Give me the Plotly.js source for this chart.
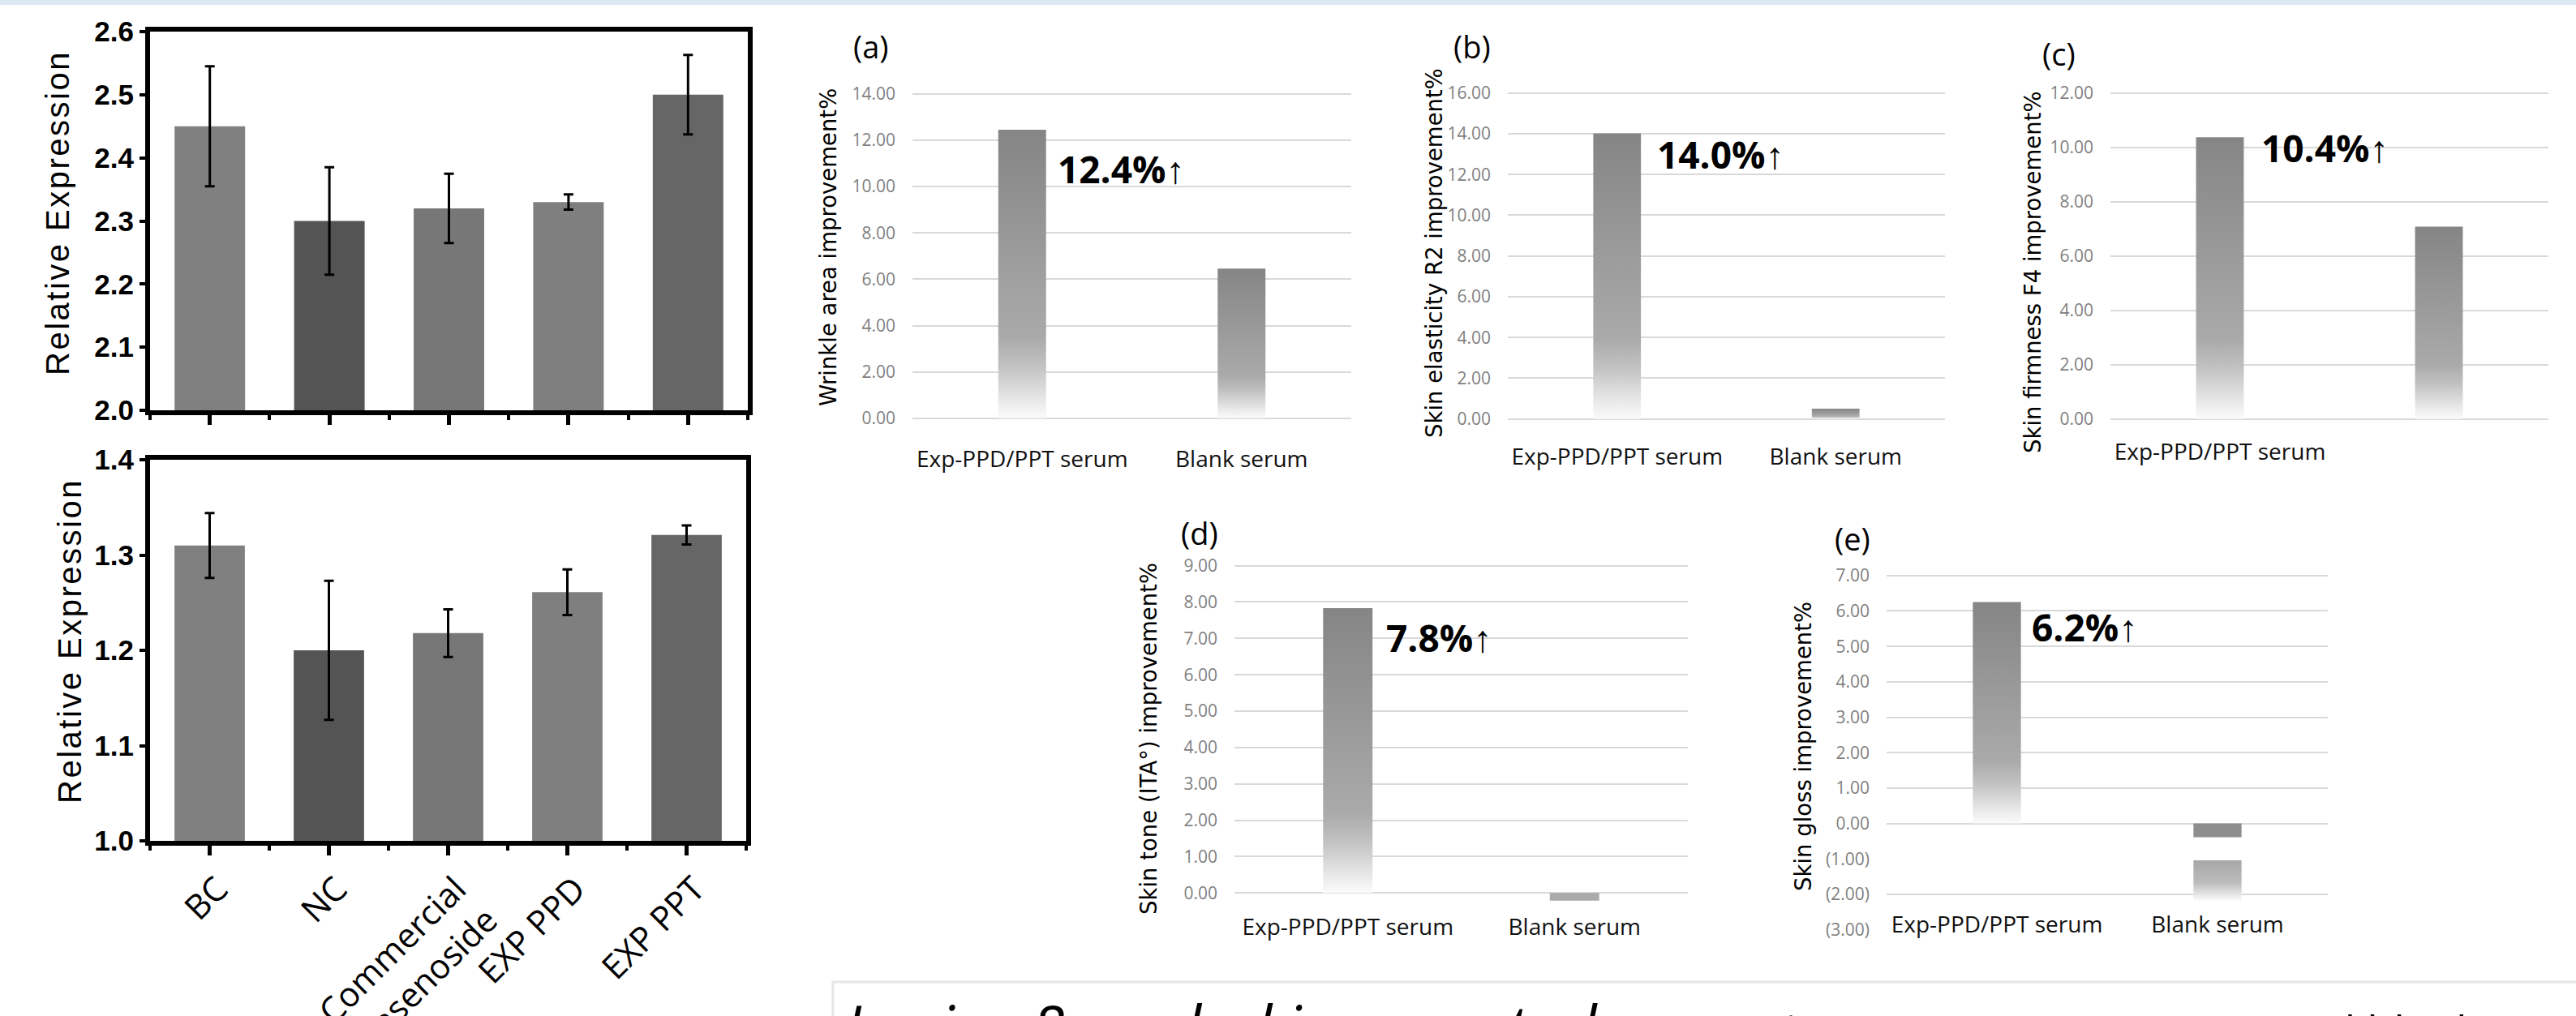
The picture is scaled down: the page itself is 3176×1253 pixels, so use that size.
<!DOCTYPE html>
<html><head><meta charset="utf-8">
<script src="https://cdn.plot.ly/plotly-3.0.1.min.js"></script>
<style>html,body{margin:0;padding:0;background:#fff;}#chart{width:3176px;height:1253px;}</style>
</head><body><div id="chart"></div>
<script>
// ---------------- data ----------------
const groups = ['BC', 'NC', 'Commercial<br>ginsenoside', 'EXP PPD', 'EXP PPT'];
const exprTop = [2.45, 2.30, 2.32, 2.33, 2.50];
const exprTopErr = [0.095, 0.085, 0.055, 0.012, 0.063];
const exprBottom = [1.31, 1.20, 1.218, 1.261, 1.321];
const exprBottomErr = [0.034, 0.073, 0.025, 0.024, 0.010];
const groupGrays = ['#808080', '#545454', '#777777', '#7f7f7f', '#666666'];

const serums = ['Exp-PPD/PPT serum', 'Blank serum'];
const wrinkleArea = [12.45, 6.46];
const elasticityR2 = [14.02, 0.50];
const firmnessF4 = [10.37, 7.08];
const toneITA = [7.83, -0.21];
const glossUpper = [6.25, -0.39];
const glossLowerBase = [null, -1.04];
const glossLowerLen = [null, -1.16];
const improvementText = ['12.4%↑', '14.0%↑', '10.4%↑', '7.8%↑', '6.2%↑'];
const glossTicks = [-3, -2, -1, 0, 1, 2, 3, 4, 5, 6, 7];
const glossGrid = [-2, 0, 1, 2, 3, 4, 5, 6, 7];
const yTitles = ['Wrinkle area improvement%', 'Skin elasticity R2 improvement%',
  'Skin firmness F4 improvement%', 'Skin tone (ITA°) improvement%', 'Skin gloss improvement%'];
const panelLetters = ['(a)', '(b)', '(c)', '(d)', '(e)'];

// ---------------- helpers ----------------
const W = 3176, H = 1253;
const px = v => v / W;
const py = v => 1 - v / H;
const dx = (a, b) => [px(a), px(b)];
const dy = (top, bot) => [py(bot), py(top)];
const GRAD = '#858585';      // gradient bars
const GRAD2 = '#a7a7a7';     // lower piece gradient
const groupIdx = groups.map((g, i) => i);
const glossTickText = glossTicks.map(v => v < 0 ? '(' + Math.abs(v).toFixed(2) + ')' : v.toFixed(2));

const data = [];
function exprTrace(vals, errs, xa, ya) {
  return {type: 'bar', x: groupIdx, y: vals, xaxis: xa, yaxis: ya, width: 0.59,
    marker: {color: groupGrays, line: {width: 0}},
    error_y: {type: 'data', array: errs, visible: true, color: '#000', thickness: 3, width: 6},
    showlegend: false, hoverinfo: 'skip'};
}
data.push(exprTrace(exprTop, exprTopErr, 'x', 'y'));
data.push(exprTrace(exprBottom, exprBottomErr, 'x2', 'y2'));

function serumTrace(vals, colors, xa, ya, extra) {
  return Object.assign({type: 'bar', x: serums, y: vals, xaxis: xa, yaxis: ya, width: 0.218,
    marker: {color: colors, line: {width: 0}}, showlegend: false, hoverinfo: 'skip'}, extra || {});
}
data.push(serumTrace(wrinkleArea, [GRAD, GRAD], 'x3', 'y3'));
data.push(serumTrace(elasticityR2, [GRAD, GRAD], 'x4', 'y4'));
data.push(serumTrace(firmnessF4, [GRAD, GRAD], 'x5', 'y5'));
data.push(serumTrace(toneITA, [GRAD, '#aaaaaa'], 'x6', 'y6'));
data.push(serumTrace(glossUpper, [GRAD, '#8e8e8e'], 'x7', 'y7'));
data.push(serumTrace(glossLowerLen, [GRAD2, GRAD2], 'x7', 'y8', {base: glossLowerBase}));

// ---------------- layout ----------------
const frame = {showline: true, mirror: true, linewidth: 6, linecolor: '#000', showgrid: false, zeroline: false, fixedrange: true};
function leftX(domain, anchor, showLabels) {
  return Object.assign({}, frame, {domain, anchor, range: [-0.5, 4.5], tickmode: 'array', tickvals: groupIdx,
    ticktext: groups, showticklabels: showLabels, tickangle: -45, ticklabelshift: 10,
    tickfont: {family: 'Open Sans', size: 42, color: '#000'},
    ticks: 'outside', ticklen: 12, tickwidth: 5, tickcolor: '#000',
    minor: {ticks: 'outside', ticklen: 6, tickwidth: 4, tickcolor: '#000', tick0: 0.5, dtick: 1}});
}
function leftY(domain, anchor, range) {
  return Object.assign({}, frame, {domain, anchor, range, dtick: 0.1, tick0: 0, tickformat: '.1f',
    ticks: 'outside', ticklen: 7, tickwidth: 4, tickcolor: '#000',
    tickfont: {family: 'Liberation Sans', size: 35, color: '#000', weight: 'bold'}});
}
function smallX(domain, anchor, standoff, ticktext) {
  return {domain, anchor, type: 'category', range: [-0.5, 1.5], showgrid: false, zeroline: false,
    showline: false, ticks: '', tickmode: 'array', tickvals: serums, ticktext: ticktext || serums,
    tickfont: {family: 'Open Sans', size: 28, color: '#111'}, ticklabelstandoff: standoff, fixedrange: true};
}
function smallY(domain, anchor, range, dtick, extra) {
  return Object.assign({domain, anchor, range, dtick, tick0: 0, tickformat: '.2f', showgrid: true,
    gridcolor: '#d9d9d9', gridwidth: 2, zeroline: false, showline: false, ticks: '',
    tickfont: {family: 'Open Sans', size: 21, color: '#7f7f7f'}, ticklabelstandoff: 20, fixedrange: true}, extra || {});
}

const layout = {
  width: W, height: H, margin: {l: 0, r: 0, t: 0, b: 0},
  paper_bgcolor: '#ffffff', plot_bgcolor: 'rgba(0,0,0,0)', barmode: 'overlay', showlegend: false,
  font: {family: 'Open Sans', color: '#000'},
  xaxis: leftX(dx(185, 922), 'y', false),
  yaxis: leftY(dy(39, 506), 'x', [2.0, 2.6]),
  xaxis2: leftX(dx(185, 920), 'y2', true),
  yaxis2: leftY(dy(567, 1037), 'x2', [1.0, 1.4]),
  xaxis3: smallX(dx(1125, 1666), 'y3', 30),
  yaxis3: smallY(dy(114.2, 517.3), 'x3', [-0.05, 14.05], 2),
  xaxis4: smallX(dx(1859, 2398), 'y4', 26),
  yaxis4: smallY(dy(113.5, 517.9), 'x4', [-0.05, 16.05], 2),
  xaxis5: smallX(dx(2602, 3142), 'y5', 20, [serums[0], '']),
  yaxis5: smallY(dy(113.1, 518.3), 'x5', [-0.05, 12.05], 2),
  xaxis6: smallX(dx(1522, 2081), 'y6', 0),
  yaxis6: smallY(dy(695.4, 1123.7), 'x6', [-0.5, 9.05], 1),
  xaxis7: smallX(dx(2326, 2870), 'y7', -26),
  yaxis7: smallY(dy(708.5, 1147.4), 'x7', [-3.02, 7.03], 1,
    {tickmode: 'array', tickvals: glossGrid, showticklabels: false, showgrid: true}),
  yaxis8: smallY(dy(708.5, 1147.4), 'x7', [-3.02, 7.03], 1,
    {overlaying: 'y7', tickmode: 'array', tickvals: glossTicks, ticktext: glossTickText, showgrid: false}),
  shapes: [
    {type: 'rect', xref: 'paper', yref: 'paper', x0: 0, x1: 1, y0: py(6), y1: 1,
      fillcolor: '#dde8f4', line: {width: 0}, layer: 'below'},
    {type: 'rect', xref: 'paper', yref: 'paper', x0: px(1027), x1: 1.02, y0: -0.2, y1: py(1211),
      fillcolor: 'rgba(0,0,0,0)', line: {color: '#e6e6e6', width: 3}, layer: 'below'}
  ],
  annotations: []
};

// left y titles
const relTitle = '<span style="letter-spacing:2.5px">Relative Expression</span>';
layout.annotations.push({xref: 'paper', yref: 'paper', x: px(71), y: py(263), text: relTitle, textangle: -90,
  showarrow: false, xanchor: 'center', yanchor: 'middle', font: {family: 'Liberation Sans', size: 40, color: '#000'}});
layout.annotations.push({xref: 'paper', yref: 'paper', x: px(86), y: py(791), text: relTitle, textangle: -90,
  showarrow: false, xanchor: 'center', yanchor: 'middle', font: {family: 'Liberation Sans', size: 40, color: '#000'}});

// small chart decorations
const titlePos = [[1021, 305], [1768, 312], [2506, 336], [1416, 911], [2223, 921]];
const letterPos = [[1074, 57], [1815, 57], [2538, 66], [1479, 657], [2284, 664]];
const pctPos = [[1382, 208], [2121, 190], [2866, 182], [1774, 786], [2570, 773]];
for (let i = 0; i < 5; i++) {
  layout.annotations.push({xref: 'paper', yref: 'paper', x: px(titlePos[i][0]), y: py(titlePos[i][1]),
    text: yTitles[i], textangle: -90, showarrow: false, xanchor: 'center', yanchor: 'middle',
    font: {family: 'DejaVu Sans', size: 27.5, color: '#000'}});
  layout.annotations.push({xref: 'paper', yref: 'paper', x: px(letterPos[i][0]), y: py(letterPos[i][1]),
    text: panelLetters[i], showarrow: false, xanchor: 'center', yanchor: 'middle',
    font: {family: 'Open Sans', size: 38, color: '#000'}});
  layout.annotations.push({xref: 'paper', yref: 'paper', x: px(pctPos[i][0]), y: py(pctPos[i][1]),
    text: improvementText[i], showarrow: false, xanchor: 'center', yanchor: 'middle',
    font: {family: 'Open Sans', size: 46, color: '#000', weight: 'bold'}});
}
// caption (cut off at bottom edge, as in the reference)
layout.annotations.push({xref: 'paper', yref: 'paper', x: px(1040), y: py(1212), xanchor: 'left', yanchor: 'top',
  showarrow: false, align: 'left',
  text: '<i>In vivo 8-week skin care study</i>   <span style="font-size:54px">(a) Using Exp-PPD/PPT serum and blank serum</span>',
  font: {family: 'Open Sans', size: 74, color: '#000'}});

Plotly.newPlot('chart', data, layout, {staticPlot: true}).then(gd => {
  const ns = 'http://www.w3.org/2000/svg';
  const svg = gd.querySelector('svg.main-svg');
  const defs = svg.querySelector('defs');
  function addGrad(id, stops) {
    const lg = document.createElementNS(ns, 'linearGradient');
    lg.setAttribute('id', id);
    lg.setAttribute('x1', '0'); lg.setAttribute('y1', '0');
    lg.setAttribute('x2', '0'); lg.setAttribute('y2', '1');
    stops.forEach(s => {
      const st = document.createElementNS(ns, 'stop');
      st.setAttribute('offset', s[0]); st.setAttribute('stop-color', s[1]);
      lg.appendChild(st);
    });
    defs.appendChild(lg);
  }
  addGrad('barGradA', [[0, '#858585'], [0.72, '#aaaaaa'], [0.82, '#c2c2c2'], [0.93, '#e6e6e6'], [1, '#fbfbfb']]);
  addGrad('barGradB', [[0, '#a7a7a7'], [0.55, '#bcbcbc'], [1, '#ffffff']]);
  gd.querySelectorAll('.barlayer .point path').forEach(p => {
    const f = p.style.fill;
    if (f === 'rgb(133, 133, 133)') p.style.fill = 'url(#barGradA)';
    else if (f === 'rgb(167, 167, 167)') p.style.fill = 'url(#barGradB)';
  });
});
</script></body></html>
